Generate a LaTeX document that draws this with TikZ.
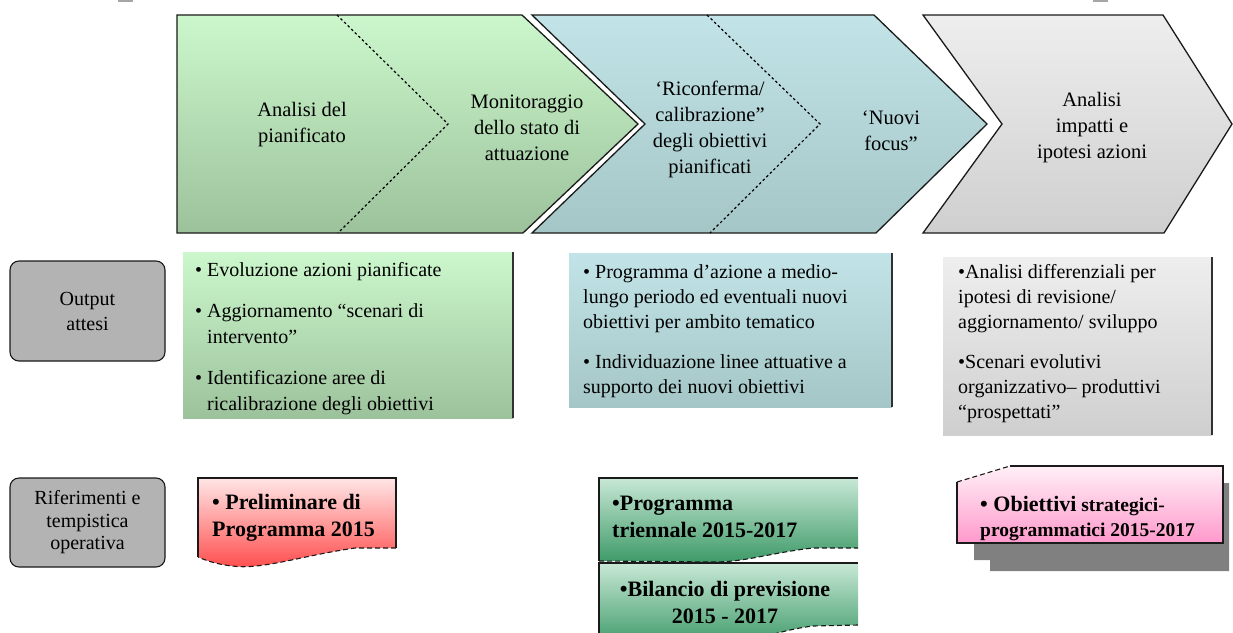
\documentclass[tikz,border=0pt]{standalone}
\usepackage{fontspec}
\setmainfont{Liberation Serif}
\definecolor{grnT}{HTML}{CCF7CC}
\definecolor{grnB}{HTML}{9CC29C}
\definecolor{tealT}{HTML}{C2E4E8}
\definecolor{tealB}{HTML}{A4C6C6}
\definecolor{gryT}{HTML}{EEEEEE}
\definecolor{gryB}{HTML}{CFCFCF}
\definecolor{labelgray}{HTML}{B3B3B3}
\definecolor{redT}{HTML}{FFE6E6}
\definecolor{redB}{HTML}{FF4A4A}
\definecolor{dgT}{HTML}{C8E8D6}
\definecolor{dgB}{HTML}{3E9A68}
\definecolor{pinkT}{HTML}{FFF0F6}
\definecolor{pinkB}{HTML}{FF99CC}
\definecolor{shadowgray}{HTML}{808080}
\definecolor{edge}{HTML}{1A1A1A}
\begin{document}
\begin{tikzpicture}[x=1pt,y=-1pt,
 chev/.style={draw=edge,line width=1.3pt,line join=miter},
 innerdash/.style={draw=black,line width=1.2pt,dash pattern=on 2.5pt off 2.5pt},
 phase/.style={font=\fontsize{20.5}{26}\selectfont,align=center,inner sep=0pt},
 bodytxt/.style={align=left,inner sep=0pt,anchor=north west},
 tag/.style={draw=edge,line width=1.1pt,fill=labelgray,rounded corners=9pt,align=center,inner sep=0pt},
 boldtxt/.style={font=\bfseries\fontsize{22}{27}\selectfont,align=left,inner sep=0pt},
 docedge/.style={draw=edge,line width=1.1pt},
 docdash/.style={draw=edge,line width=1.1pt,dash pattern=on 5pt off 3pt},
 rshade/.style={draw=edge!90,line width=1.8pt},
]
\useasboundingbox (0,0) rectangle (1233,632);
\clip (0,0) rectangle (1233,632);

% tiny marks at the top edge
\fill[gray!70] (118,0) rectangle (133,1.5);
\fill[gray!70] (1093,0) rectangle (1108,1.5);

% ---- chevrons ----
\path[chev,top color=grnT,bottom color=grnB] (177,15) -- (522,15) -- (638,124) -- (523,233) -- (177,233) -- cycle;
\draw[innerdash] (337,15) -- (448,124) -- (338,233);

\path[chev,top color=tealT,bottom color=tealB] (532,15) -- (874,15) -- (987,124) -- (876,233) -- (532,233) -- (645,124) -- cycle;
\draw[innerdash] (707,15) -- (820,124) -- (710,233);

\path[chev,top color=gryT,bottom color=gryB] (923,15) -- (1163,15) -- (1232,124) -- (1164,233) -- (923,233) -- (1002,124) -- cycle;

\node[phase] (p1) at (302,125) {Analisi del\\pianificato};
\node[phase] (p2) at (527,128) {Monitoraggio\\dello stato di\\attuazione};
\node[phase] (p3) at (710,129) {‘Riconferma/\\calibrazione”\\degli obiettivi\\pianificati};
\node[phase] (p4) at (891,131) {‘Nuovi\\focus”};
\node[phase] (p5) at (1092,128) {Analisi\\impatti e\\ipotesi azioni};

% ---- row labels ----
\node[tag,minimum width=155,minimum height=100,font=\fontsize{20}{25}\selectfont] (oa) at (87.5,311) {Output\\attesi};
\node[tag,minimum width=155,minimum height=89,font=\fontsize{20}{22.5}\selectfont] (rt) at (87.5,522.5) {Riferimenti e\\tempistica\\operativa};

% ---- output boxes ----
\path[top color=grnT,bottom color=grnB] (183,252) rectangle (513,418);
\draw[rshade] (513,252) -- (513,418);
\node[bodytxt,font=\fontsize{20}{26}\selectfont] (o1) at (195,262) {• Evoluzione azioni pianificate\\[15pt]• Aggiornamento “scenari di\\\phantom{• }intervento”\\[15pt]• Identificazione aree di\\\phantom{• }ricalibrazione degli obiettivi};

\path[top color=tealT,bottom color=tealB] (569,253) rectangle (892,407);
\draw[rshade] (892,253) -- (892,407);
\node[bodytxt,font=\fontsize{20}{25}\selectfont] (o2) at (583,264) {• Programma d’azione a medio-\\lungo periodo ed eventuali nuovi\\obiettivi per ambito tematico\\[15pt]• Individuazione linee attuative a\\supporto dei nuovi obiettivi};

\path[top color=gryT,bottom color=gryB] (943,257) rectangle (1212,435);
\draw[rshade] (1212,257) -- (1212,435);
\node[bodytxt,font=\fontsize{20}{25}\selectfont] (o3) at (958,264) {•Analisi differenziali per\\ipotesi di revisione/\\aggiornamento/ sviluppo\\[15pt]•Scenari evolutivi\\organizzativo– produttivi\\“prospettati”};

% ---- reference documents ----
\path[top color=redT,bottom color=redB] (198,478) -- (396,478) -- (396,548) -- (355,548) .. controls (300,556) and (262,570) .. (232,566) .. controls (215,564) and (205,560) .. (198,557) -- cycle;
\draw[docedge] (198,557) -- (198,478) -- (396,478) -- (396,548);
\draw[docdash] (396,548) -- (355,548) .. controls (300,556) and (262,570) .. (232,566) .. controls (215,564) and (205,560) .. (198,557);
\node[boldtxt,anchor=west] (pre) at (212,518) {• Preliminare di\\Programma 2015};

\path[top color=dgT,bottom color=dgB] (599,478) -- (858,478) -- (858,548) -- (813,548) .. controls (775,552) and (745,562) .. (715,562) -- (599,561) -- cycle;
\draw[docedge] (858,478) -- (599,478) -- (599,561);
\draw[docdash] (599,561) -- (715,562) .. controls (745,562) and (775,552) .. (813,548) -- (858,548);
\node[boldtxt,anchor=west] (tri) at (612,517) {•Programma\\triennale 2015-2017};

\path[top color=dgT,bottom color=dgB] (599,563) -- (858,563) -- (858,625) -- (813,626) .. controls (780,630) and (760,640) .. (720,646) -- (599,646) -- cycle;
\draw[docedge] (858,563) -- (599,563) -- (599,646);
\draw[docdash] (599,646) -- (720,646) .. controls (760,640) and (780,630) .. (813,626) -- (858,625);
\node[boldtxt,align=center] (bil) at (725,602) {•Bilancio di previsione\\2015 - 2017};

\fill[shadowgray] (1223,483) -- (1229,483) -- (1229,571) -- (990,571) -- (990,560) -- (974,560) -- (974,543) -- (1223,543) -- cycle;
\path[top color=pinkT,bottom color=pinkB] (957,482) -- (1010,466) -- (1223,466) -- (1223,543) -- (957,543) -- cycle;
\draw[docedge] (1010,466) -- (1223,466) -- (1223,543) -- (957,543) -- (957,482);
\draw[docdash] (957,482) -- (1010,466);
\node[anchor=west,align=left,inner sep=0pt,font=\bfseries\fontsize{19.5}{25}\selectfont] (obj) at (980,518.5) {{\fontsize{22}{25}\selectfont • Obiettivi} strategici-\\programmatici 2015-2017};
\end{tikzpicture}
\end{document}
